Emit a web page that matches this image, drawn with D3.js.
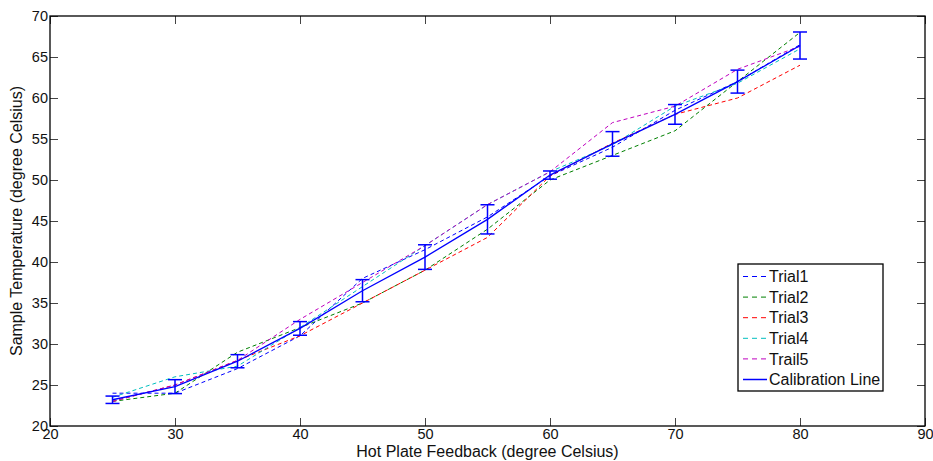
<!DOCTYPE html>
<html>
<head>
<meta charset="utf-8">
<script src="https://cdn.jsdelivr.net/npm/d3@7"></script>
<style>
body{margin:0;background:#fff;}
text{font-family:"Liberation Sans",Arial,sans-serif;}
</style>
</head>
<body>
<div id="chart"></div>
<script>
var margin = {top:16, right:8, bottom:35, left:50}, width = 933 - margin.left - margin.right, height = 461 - margin.top - margin.bottom;

// data
var xVals = [25,30,35,40,45,50,55,60,65,70,75,80]
var trial1 = [24.0,24.0,27.0,31.0,38.0,41.5,45.5,50.5,54.0,58.5,62.0,66.5]
var trial2 = [23.0,24.0,29.0,32.0,35.0,39.0,44.0,50.0,53.0,56.0,62.0,68.0]
var trial3 = [23.0,25.0,28.0,31.0,35.0,39.0,43.0,50.5,54.5,58.0,60.0,64.0]
var trial4 = [23.5,26.0,27.3,32.0,37.0,42.0,47.0,51.0,54.3,59.0,61.8,66.0]
var trial5 = [23.0,25.0,28.0,33.0,37.5,42.0,47.0,51.0,57.0,59.0,63.5,66.3]
var calMean = [23.2,24.8,27.9,31.9,36.5,40.6,45.2,50.6,54.4,58.0,62.0,66.4]
var calErr = [0.45,0.85,0.8,0.83,1.35,1.5,1.78,0.5,1.5,1.2,1.4,1.65]
var seriesNames = ["Trial1","Trial2","Trial3","Trial4","Trail5"]
var seriesColors = ["#0000ff","#008000","#ff0000","#00bfbf","#bf00bf"]
var xTicks = [20,30,40,50,60,70,80,90]
var yTicks = [20,25,30,35,40,45,50,55,60,65,70]

var trials = [trial1,trial2,trial3,trial4,trial5]

var svg = d3.select("#chart").append("svg")
    .attr("width", width + margin.left + margin.right)
    .attr("height", height + margin.top + margin.bottom)
    .append("g")
    .attr("transform", "translate(" + margin.left + "," + margin.top + ")");

var xScale = d3.scaleLinear().domain([20,90]).range([0,width])
var yScale = d3.scaleLinear().domain([20,70]).range([height,0])

//axes, ticks pointing inwards like matlab
function styleAxis(g){
    g.selectAll(".domain").remove()
    g.selectAll(".tick line").attr("stroke","#444")
    g.selectAll("text").attr("font-size","14.5px").attr("fill","#111")
}
svg.append("g").attr("transform","translate(0,"+height+")")
    .call(d3.axisBottom(xScale).tickValues(xTicks).tickSize(-8).tickPadding(3))
    .call(styleAxis)
svg.append("g")
    .call(d3.axisTop(xScale).tickValues(xTicks).tickSize(-8).tickFormat(""))
    .call(styleAxis)
svg.append("g")
    .call(d3.axisLeft(yScale).tickValues(yTicks).tickSize(-8).tickPadding(2))
    .call(styleAxis)
svg.append("g").attr("transform","translate("+width+",0)")
    .call(d3.axisRight(yScale).tickValues(yTicks).tickSize(-8).tickFormat(""))
    .call(styleAxis)

svg.append("rect")
    .attr("width", width).attr("height", height)
    .attr("fill","none").attr("stroke","#000").attr("stroke-width",1.3)

// axis titles
svg.append("text")
    .attr("x", width/2).attr("y", height + 30.5)
    .attr("text-anchor","middle").attr("font-size","16px").attr("fill","#111")
    .text("Hot Plate Feedback (degree Celsius)")
svg.append("text")
    .attr("transform","rotate(-90)")
    .attr("x", -height/2).attr("y", -28.5)
    .attr("text-anchor","middle").attr("font-size","16px").attr("fill","#111")
    .text("Sample Temperature (degree Celsius)")

var line = d3.line()
    .x(function(d,i){ return xScale(xVals[i]) })
    .y(function(d){ return yScale(d) })

// trial lines
for (var i = 0; i < trials.length; i++){
    svg.append("path")
        .datum(trials[i])
        .attr("d", line)
        .attr("fill","none")
        .attr("stroke", seriesColors[i])
        .attr("stroke-width",1)
        .attr("stroke-dasharray","4,3")
}

// calibration line + error bars
svg.append("path")
    .datum(calMean)
    .attr("d", line)
    .attr("fill","none")
    .attr("stroke","#0000ff")
    .attr("stroke-width",1.3)

var bars = svg.selectAll(".errbar").data(calMean).enter()
    .append("g").attr("class","errbar")
    .attr("stroke","#0000ff").attr("stroke-width",1.5)
bars.append("line")
    .attr("x1", function(d,i){ return xScale(xVals[i]) })
    .attr("x2", function(d,i){ return xScale(xVals[i]) })
    .attr("y1", function(d,i){ return yScale(d - calErr[i]) })
    .attr("y2", function(d,i){ return yScale(d + calErr[i]) })
bars.append("line")
    .attr("x1", function(d,i){ return xScale(xVals[i]) - 7 })
    .attr("x2", function(d,i){ return xScale(xVals[i]) + 7 })
    .attr("y1", function(d,i){ return yScale(d - calErr[i]) })
    .attr("y2", function(d,i){ return yScale(d - calErr[i]) })
bars.append("line")
    .attr("x1", function(d,i){ return xScale(xVals[i]) - 7 })
    .attr("x2", function(d,i){ return xScale(xVals[i]) + 7 })
    .attr("y1", function(d,i){ return yScale(d + calErr[i]) })
    .attr("y2", function(d,i){ return yScale(d + calErr[i]) })

// legend
var legendNames = seriesNames.concat(["Calibration Line"])
var legend = svg.append("g").attr("transform","translate(" + (738 - margin.left) + "," + (264 - margin.top) + ")")
legend.append("rect")
    .attr("width",145).attr("height",127)
    .attr("fill","#fff").attr("stroke","#000").attr("stroke-width",1.3)
legendNames.forEach(function(name, i){
    var y = 12.5 + i*20.6
    legend.append("line")
        .attr("x1",5).attr("x2",29).attr("y1",y).attr("y2",y)
        .attr("stroke", i < 5 ? seriesColors[i] : "#0000ff")
        .attr("stroke-width", i < 5 ? 1 : 1.5)
        .attr("stroke-dasharray", i < 5 ? "5,4" : null)
    legend.append("text")
        .attr("x",31).attr("y",y).attr("dy","0.36em")
        .attr("font-size","16px").attr("fill","#111")
        .text(name)
})
</script>
</body>
</html>
